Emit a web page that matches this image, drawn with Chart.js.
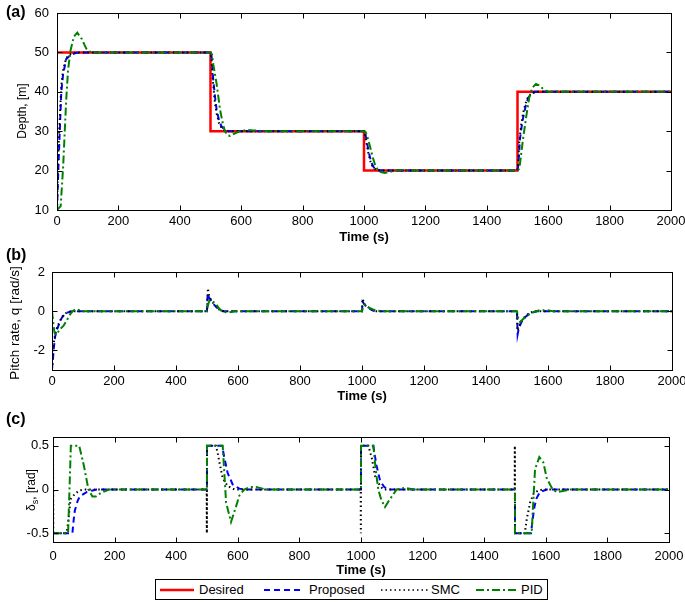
<!DOCTYPE html>
<html><head><meta charset="utf-8">
<script src="https://cdn.jsdelivr.net/npm/chart.js@4.4.0/dist/chart.umd.min.js"></script>
<style>
html,body{margin:0;padding:0;background:#fff;}
body{width:685px;height:602px;position:relative;overflow:hidden;font-family:"Liberation Sans",Arial,Helvetica,sans-serif;color:#000;}
canvas{position:absolute;left:0;}
.plab{position:absolute;font-weight:bold;font-size:16px;line-height:16px;}
.ytitle{position:absolute;font-size:12px;line-height:14px;white-space:nowrap;transform:translate(-50%,-50%) rotate(-90deg);}
.ytitle sub{font-size:9px;vertical-align:-3px;}
#legend{position:absolute;left:155px;top:579px;width:393px;height:21px;border:1px solid #000;box-sizing:border-box;background:#fff;}
#legend span{position:absolute;top:2px;font-size:13px;line-height:15px;}
#legend svg{position:absolute;left:0;top:0;}
</style>
</head><body>
<canvas id="ca" width="685" height="245" style="top:0px"></canvas>
<canvas id="cb" width="685" height="155" style="top:250px"></canvas>
<canvas id="cc" width="685" height="170" style="top:410px"></canvas>
<div class="plab" style="left:6px;top:4px">(a)</div>
<div class="plab" style="left:6px;top:247px">(b)</div>
<div class="plab" style="left:6px;top:411px">(c)</div>
<div class="ytitle" style="left:22px;top:111px">Depth, [m]</div>
<div class="ytitle" style="left:15px;top:323px;font-size:13.5px;line-height:16px">Pitch rate, q [rad/s]</div>
<div class="ytitle" style="left:33px;top:490px">δ<sub>s</sub>, [rad]</div>
<div id="legend">
<svg width="391" height="19">
<line x1="4" y1="10" x2="38" y2="10" stroke="#ff0000" stroke-width="2.5"/>
<line x1="108" y1="10" x2="145" y2="10" stroke="#0000ff" stroke-width="2" stroke-dasharray="6,4"/>
<line x1="225" y1="10" x2="272" y2="10" stroke="#000" stroke-width="1.5" stroke-dasharray="1.5,3"/>
<line x1="320" y1="10" x2="362" y2="10" stroke="#008000" stroke-width="2" stroke-dasharray="8,3,2,3"/>
</svg>
<span style="left:43px">Desired</span>
<span style="left:153px">Proposed</span>
<span style="left:275px">SMC</span>
<span style="left:365px">PID</span>
</div>
<script>
// ---------- data ----------
const timeTicks = [0,200,400,600,800,1000,1200,1400,1600,1800,2000];
const depthTicks = [10,20,30,40,50,60];
const pitchTicks = [-2,0,2];
const deltaTicks = [-0.5,0,0.5];

// (a) depth
const depthDesiredT = [0,500,500,1000,1000,1500,1500,2000];
const depthDesiredV = [50,50,30,30,20,20,40,40];
const depthPropT = [0,3,6,9,14,20,30,45,63,90, 500,503,509,515,520,528,536,545,558,580, 1000,1004,1010,1016,1024,1032,1040,1055, 1500,1503,1508,1514,1519,1527,1535,1545,1557,1580, 2000];
const depthPropV = [10,17,24,30,40,44.5,48.3,49.4,49.9,50, 50,49.5,43,38.5,35.4,32.7,31.2,30.5,30,30, 30,29.5,27,24.5,22,20.8,20.2,20, 20,21.5,28,31.5,33.7,36.5,38.5,39.5,40,40, 40];
const depthSmcT = [0,2,5,9,14,20,30,45,63, 500,503,508,514,520,528,536,548,560, 1000,1003,1008,1014,1020,1028,1038,1050, 1500,1502,1506,1512,1518,1526,1535,1548,1560, 2000];
const depthSmcV = [10,18,26,33,41.5,45.5,48.6,49.6,50, 50,48.5,42.5,37.5,34.5,32,30.8,30.2,30, 30,29.2,27,24.5,22.5,21,20.3,20, 20,22,27.5,31.5,34.5,37,38.8,39.7,40, 40];
const depthPidT = [0,12,20,25,30,36,44,55,66,80,95,110,130, 500,505,509,520,531,540,547,555,563,575,596,620,640,680, 1000,1005,1012,1020,1028,1036,1045,1055,1068,1085,1100,1130,1160, 1500,1506,1510,1518,1528,1538,1548,1560,1572,1585,1600,1630, 2000];
const depthPidV = [10,11,21,29.5,38,45.5,50.5,54,55,53.5,51,50,50, 50,49.5,47,42,35.5,32,30,29,28.8,29.3,30,30.3,30.2,30, 30,29.8,28.3,26,23.5,21.5,20.2,19.6,19.4,19.7,20,20.2,20, 20,20.5,23,28,33.5,38.5,41,42,41.6,40.6,40,40, 40];

// (b) pitch rate
const pitchPropT = [0,3,5,10,16,24,32,40,48,60,70, 500,502,505,511,522,532,543,555, 1000,1002,1011,1020,1027,1037,1045, 1500,1502,1506,1516,1527,1538,1552,1565, 2000];
const pitchPropV = [-2.95,-2.5,-2.0,-1.3,-0.95,-0.6,-0.33,-0.18,-0.08,-0.02,0, 0,0.9,0.75,0.6,0.35,0.18,0.05,0, 0,0.48,0.29,0.17,0.1,0.02,0, 0,-1.18,-0.85,-0.5,-0.3,-0.15,-0.05,0, 0];
const pitchSmcT = [0,3,6,10,16,24,32,40,50,65, 500,503,506,511,522,532,543,550, 1000,1002,1006,1011,1027,1037,1045, 1500,1502,1506,1516,1527,1538,1550,1560, 2000];
const pitchSmcV = [-2.95,-2.3,-1.6,-1.2,-0.85,-0.55,-0.3,-0.15,-0.05,0, 0,1.17,0.85,0.63,0.37,0.2,0.03,0, 0,0.63,0.45,0.3,0.12,0.02,0, 0,-1.0,-0.8,-0.45,-0.25,-0.12,-0.03,0, 0];
const pitchPidT = [0,4,8,12,20,30,37,48,59,67,75,90,102, 500,503,508,515,522,532,540,548,560,570,591, 1000,1003,1008,1015,1027,1038,1049,1070, 1500,1503,1510,1520,1530,1540,1555,1570,1597,1615, 2000];
const pitchPidV = [0,-0.6,-1.1,-1.2,-1.05,-0.85,-0.75,-0.45,-0.15,0,0.1,0.05,0, 0,0.3,0.55,0.52,0.46,0.29,0.12,0,-0.05,-0.06,0, 0,0.2,0.33,0.25,0.15,0.07,0.03,0, 0,-0.3,-0.55,-0.4,-0.28,-0.15,-0.03,0.03,0.06,0, 0];

// (c) stern plane deflection
const deltaPropT = [0,63,67,71,80,87,100,109,125,142, 500,500,549,556,567,583,605,625, 1000,1000,1040,1050,1062,1075,1089, 1500,1500,1552,1557,1563,1570,1581,1603, 2000];
const deltaPropV = [-0.5,-0.5,-0.35,-0.24,-0.13,-0.08,-0.05,-0.03,-0.015,0, 0,0.5,0.5,0.37,0.19,0.06,0.01,0, 0,0.5,0.5,0.28,0.1,0.03,0, 0,-0.5,-0.5,-0.35,-0.2,-0.1,-0.03,0, 0];
const deltaSmcT = [0,1,44,49,57,71,87,100, 499,499.5,500,529,535,542,551,567,589, 999,999.5,1000,1024,1035,1046,1062,1073, 1499,1499.5,1500,1532,1538,1549,1560,1576,1590, 2000];
const deltaSmcV = [0.5,-0.5,-0.5,-0.38,-0.11,-0.05,-0.01,0, 0,-0.5,0.5,0.5,0.41,0.28,0.13,0.04,0, 0,-0.5,0.5,0.5,0.36,0.15,0.04,0, 0,0.5,-0.5,-0.5,-0.34,-0.15,-0.05,-0.01,0, 0];
const deltaPidT = [0,49,58,85,101,115,128,139,155,182, 500,500,551,562,578,592,605,621,640,659,692, 1000,1000,1040,1048,1056,1066,1078,1094,1116,1143,1170, 1500,1500,1554,1560,1565,1579,1592,1603,1619,1635,1651,1679, 2000];
const deltaPidV = [-0.5,-0.5,0.5,0.5,0.26,0,-0.08,-0.08,-0.04,0, 0,0.5,0.5,-0.15,-0.37,-0.22,-0.07,0,0.03,0.03,0, 0,0.5,0.5,0.22,0,-0.12,-0.2,-0.11,0,0.02,0, 0,-0.5,-0.5,-0.1,0.23,0.37,0.31,0.13,0.02,-0.03,-0.02,0, 0];

// ---------- styles ----------
const FONT = '"Liberation Sans", Arial, Helvetica, sans-serif';
const STY = {
  desired:  {label:'Desired',  borderColor:'#ff0000', borderWidth:2.5, borderDash:[],        order:4},
  proposed: {label:'Proposed', borderColor:'#0000ff', borderWidth:2,   borderDash:[6,4],     order:3},
  smc:      {label:'SMC',      borderColor:'#000000', borderWidth:2,   borderDash:[1.5,3],   order:2},
  pid:      {label:'PID',      borderColor:'#008000', borderWidth:2,   borderDash:[8,3,2,3], order:1}
};
function pts(T, V) { return T.map((t, i) => ({x: t, y: V[i]})); }
function ds(kind, T, V) {
  return Object.assign({data: pts(T, V), pointRadius: 0, tension: 0, fill: false, borderCapStyle: 'butt'}, STY[kind]);
}

const boxPlugin = {
  id: 'boxTicks',
  afterDraw(chart) {
    const {ctx, chartArea: a, scales: {x, y}} = chart;
    ctx.save();
    ctx.strokeStyle = '#000';
    ctx.lineWidth = 1;
    ctx.setLineDash([]);
    const L = Math.round(a.left) + 0.5, R = Math.round(a.right) + 0.5;
    const T = Math.round(a.top) + 0.5, B = Math.round(a.bottom) + 0.5;
    ctx.strokeRect(L, T, R - L, B - T);
    const k = 5;
    ctx.beginPath();
    x.ticks.forEach(t => {
      const p = Math.round(x.getPixelForValue(t.value)) + 0.5;
      ctx.moveTo(p, B); ctx.lineTo(p, B - k);
      ctx.moveTo(p, T); ctx.lineTo(p, T + k);
    });
    y.ticks.forEach(t => {
      const p = Math.round(y.getPixelForValue(t.value)) + 0.5;
      ctx.moveTo(L, p); ctx.lineTo(L + k, p);
      ctx.moveTo(R, p); ctx.lineTo(R - k, p);
    });
    ctx.stroke();
    ctx.restore();
  }
};

function makeChart(id, datasets, g) {
  new Chart(document.getElementById(id), {
    type: 'line',
    data: {datasets},
    plugins: [boxPlugin],
    options: {
      responsive: false, animation: false, devicePixelRatio: 1,
      layout: {padding: {top: g.top, right: g.right, left: 0, bottom: 0}},
      plugins: {legend: {display: false}, tooltip: {enabled: false}},
      scales: {
        x: {
          type: 'linear', min: 0, max: 2000,
          afterBuildTicks: s => { s.ticks = timeTicks.map(v => ({value: v})); },
          afterFit: s => { s.height = g.xh; s.paddingLeft = 0; s.paddingRight = 0; s.paddingTop = 0; s.paddingBottom = 0; },
          ticks: {font: {family: FONT, size: 13}, color: '#000', padding: g.xpad, maxRotation: 0, autoSkip: false, callback: v => String(v)},
          grid: {display: false, drawTicks: false},
          border: {display: false},
          title: {display: true, text: 'Time (s)', color: '#000', font: {family: FONT, size: 13, weight: 'bold'}, padding: {top: 0, bottom: g.tpad}}
        },
        y: {
          type: 'linear', min: g.ymin, max: g.ymax,
          afterBuildTicks: s => { s.ticks = g.yticks.map(v => ({value: v})); },
          afterFit: s => { s.width = g.yw; s.paddingLeft = 0; s.paddingRight = 0; s.paddingTop = 0; s.paddingBottom = 0; },
          ticks: {font: {family: FONT, size: 13}, color: '#000', padding: g.ypad, callback: v => String(v)},
          grid: {display: false, drawTicks: false},
          border: {display: false}
        }
      }
    }
  });
}

makeChart('ca', [
  ds('desired', depthDesiredT, depthDesiredV),
  ds('proposed', depthPropT, depthPropV),
  ds('smc', depthSmcT, depthSmcV),
  ds('pid', depthPidT, depthPidV)
], {top: 13, right: 14, xh: 35, yw: 57, xpad: 4, ypad: 8, tpad: 0, ymin: 10, ymax: 60, yticks: depthTicks});

makeChart('cb', [
  ds('proposed', pitchPropT, pitchPropV),
  ds('smc', pitchSmcT, pitchSmcV),
  ds('pid', pitchPidT, pitchPidV)
], {top: 22, right: 13, xh: 35, yw: 52, xpad: 4, ypad: 7, tpad: 1, ymin: -3, ymax: 2, yticks: pitchTicks});

makeChart('cc', [
  ds('proposed', deltaPropT, deltaPropV),
  ds('smc', deltaSmcT, deltaSmcV),
  ds('pid', deltaPidT, deltaPidV)
], {top: 27, right: 16, xh: 38, yw: 53, xpad: 7, ypad: 4, tpad: 2, ymin: -0.6, ymax: 0.6, yticks: deltaTicks});
</script>
</body></html>
